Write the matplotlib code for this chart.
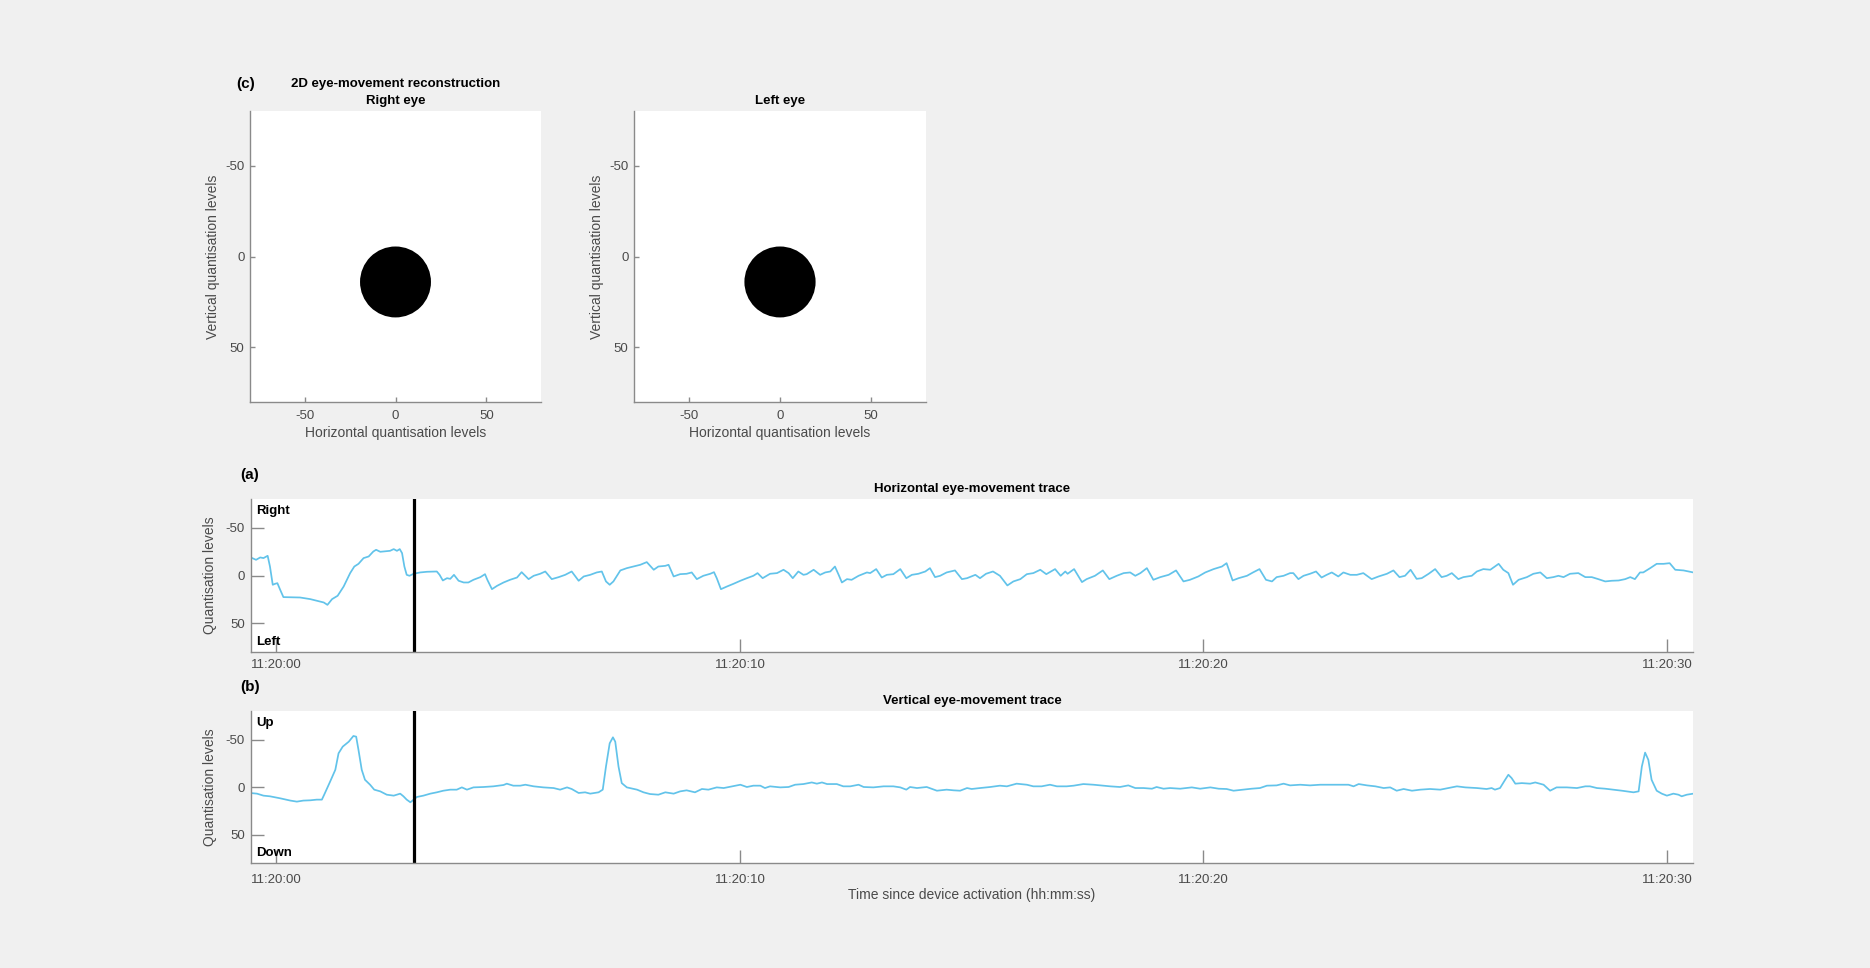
import matplotlib
matplotlib.use("Agg")
import matplotlib.pyplot as plt
from matplotlib.patches import Circle

plt.rcParams['font.family'] = ['Liberation Sans', 'DejaVu Sans']
plt.rcParams['axes.unicode_minus'] = False

# ---------------- data ----------------
# horizontal eye-movement trace: (seconds since 11:20:00, quantisation level)
horizontal_trace = [
    (-0.57, -19.2), (-0.44, -16.4), (-0.35, -18.9), (-0.28, -18.2), (-0.19, -20.6), (-0.14, -9.4),
    (-0.08, 9.7), (-0.03, 8.7), (0.02, 8.0), (0.08, 14.9), (0.15, 22.6), (0.51, 23.0), (0.73, 24.7),
    (1.02, 28.2), (1.10, 30.7), (1.20, 24.7), (1.32, 21.2), (1.45, 11.5), (1.59, -2.5), (1.68, -9.4),
    (1.77, -12.2), (1.88, -18.2), (1.99, -19.9), (2.09, -25.1), (2.15, -26.9), (2.24, -24.8),
    (2.45, -25.8), (2.53, -27.6), (2.60, -25.8), (2.66, -27.6), (2.71, -23.4), (2.76, -9.4),
    (2.81, -0.7), (2.87, 0.3), (2.96, -1.8), (3.10, -3.2), (3.25, -3.9), (3.46, -4.2), (3.52, -0.7),
    (3.59, 5.2), (3.68, 2.8), (3.75, 3.5), (3.83, -0.7), (3.93, 5.5), (4.04, 7.3), (4.14, 7.3),
    (4.25, 4.5), (4.40, 1.7), (4.50, -1.4), (4.55, 4.5), (4.65, 14.3), (4.76, 10.8), (4.90, 7.3),
    (5.04, 4.5), (5.19, 2.1), (5.29, -3.5), (5.44, 3.8), (5.55, 0.3), (5.69, -1.8), (5.80, -4.2),
    (5.94, 3.8), (6.09, 1.7), (6.23, -0.7), (6.37, -4.2), (6.52, 5.5), (6.63, 1.0), (6.77, -0.7),
    (6.91, -3.2), (7.02, -4.2), (7.11, 6.2), (7.19, 9.7), (7.27, 6.2), (7.42, -5.3), (7.56, -7.7),
    (7.70, -9.4), (7.85, -11.2), (7.99, -14.0), (8.14, -6.0), (8.24, -9.4), (8.39, -10.1),
    (8.46, -11.2), (8.57, 1.0), (8.71, -1.4), (8.85, -1.8), (8.96, -3.2), (9.07, 3.8), (9.21, 0.3),
    (9.36, -1.8), (9.44, -3.5), (9.50, 2.8), (9.59, 14.3), (9.72, 11.5), (9.86, 8.7), (10.01, 5.5),
    (10.15, 2.8), (10.29, 0.3), (10.38, -2.5), (10.49, 2.8), (10.65, -1.8),
    (10.80, -2.5), (10.94, -6.0), (11.05, -2.5), (11.14, 2.8), (11.26, -4.2), (11.37, -0.7),
    (11.44, -1.4), (11.59, -6.0), (11.73, -0.7), (11.84, -3.2), (11.95, -4.2), (12.05, -9.4),
    (12.13, -0.7), (12.20, 7.3), (12.31, 3.8), (12.41, 4.5), (12.56, 0.3), (12.74, -3.2),
    (12.81, -2.5), (12.94, -6.7), (13.06, 2.1), (13.17, -0.7), (13.31, -1.4), (13.46, -6.7),
    (13.59, 2.8), (13.71, -0.7), (13.85, -1.8), (14.00, -4.2), (14.10, -7.7), (14.21, 1.7),
    (14.32, 0.3), (14.46, -3.2), (14.64, -5.3), (14.79, 3.8), (14.90, 2.8), (15.08, -0.7),
    (15.18, 2.8), (15.31, -1.8), (15.46, -4.2), (15.61, 0.3), (15.77, 10.4), (15.90, 6.2),
    (16.05, 3.8), (16.19, -1.4), (16.33, -2.5), (16.48, -6.0), (16.61, -1.4), (16.80, -6.7),
    (16.92, 0.3), (17.02, -4.2), (17.07, -1.8), (17.21, -6.7), (17.38, 6.9), (17.48, 3.8),
    (17.66, 0.3), (17.83, -5.3), (17.97, 3.8), (18.13, 0.3), (18.28, -2.5), (18.42, -3.2),
    (18.53, 0.3), (18.64, -2.5), (18.78, -7.7), (18.92, 4.5), (19.07, 1.7), (19.25, -0.7),
    (19.41, -5.3), (19.57, 6.2), (19.71, 4.5), (19.89, 1.0), (20.04, -3.2), (20.22, -6.7),
    (20.40, -9.4), (20.50, -12.9), (20.63, 5.2), (20.76, 2.8), (20.94, 0.3), (21.07, -3.2),
    (21.21, -6.7), (21.35, 4.5), (21.48, 6.2), (21.58, 1.7), (21.73, 0.3), (21.87, -2.5),
    (21.94, -2.5), (22.05, 3.8), (22.16, 0.3), (22.30, -1.8), (22.43, -4.2), (22.55, 2.1),
    (22.66, -0.7), (22.77, -3.2), (22.91, 1.0), (23.02, -3.2), (23.17, -0.7), (23.31, -0.7),
    (23.45, -2.5), (23.63, 3.8), (23.78, 1.0), (23.96, -1.8), (24.10, -5.3), (24.23, 1.7),
    (24.35, 0.3), (24.47, -6.0), (24.60, 3.5), (24.71, 2.8), (24.86, -1.8), (25.00, -6.7),
    (25.14, 1.7), (25.25, 0.3), (25.36, -2.5), (25.50, 3.8), (25.61, 1.7), (25.79, 0.3),
    (25.90, -4.2), (26.04, -6.7), (26.19, -6.0), (26.37, -12.2), (26.47, -6.0), (26.58, -2.5),
    (26.68, 9.7), (26.80, 4.5), (26.98, 1.7), (27.12, -1.8), (27.27, -3.2), (27.41, 2.8),
    (27.55, 1.7), (27.66, 0.3), (27.77, 1.7), (27.91, -1.8), (28.09, -2.5), (28.24, 1.7),
    (28.38, 1.7), (28.52, 3.8), (28.67, 6.2), (28.81, 5.5), (28.96, 5.2), (29.10, 3.8),
    (29.21, 1.7), (29.31, 3.8), (29.42, -3.2), (29.49, -3.2), (29.64, -7.7), (29.78, -12.2),
    (29.93, -12.2), (30.06, -12.9), (30.18, -6.0), (30.36, -5.3), (30.57, -3.2),
]

# vertical eye-movement trace: (seconds since 11:20:00, quantisation level)
vertical_trace = [
    (-0.57, 6.3), (-0.42, 7.0), (-0.28, 9.1), (-0.14, 9.8), (0.08, 11.9), (0.30, 14.3), (0.44, 15.4),
    (0.58, 14.3), (0.73, 14.0), (0.87, 13.3), (0.98, 13.3), (1.03, 8.1), (1.16, -5.9), (1.27, -18.1),
    (1.34, -35.5), (1.43, -42.5), (1.56, -47.7), (1.66, -53.7), (1.72, -53.0), (1.77, -39.0),
    (1.84, -18.1), (1.91, -7.6), (2.02, -2.4), (2.11, 2.8), (2.24, 4.6), (2.38, 8.1), (2.53, 9.1),
    (2.67, 7.0), (2.74, 9.8), (2.81, 13.3), (2.89, 16.1), (3.03, 10.5), (3.17, 9.1), (3.32, 7.0),
    (3.46, 5.6), (3.60, 3.9), (3.75, 2.8), (3.89, 2.8), (4.00, 0.4), (4.11, 2.8), (4.25, 0.4),
    (4.47, 0.0), (4.68, -0.7), (4.90, -2.1), (4.97, -3.5), (5.11, -1.4), (5.26, -1.4), (5.37, -2.4),
    (5.55, -0.7), (5.76, 0.4), (5.98, 1.1), (6.12, 2.8), (6.27, 0.4), (6.37, 2.1), (6.52, 6.3),
    (6.66, 5.6), (6.77, 7.0), (6.95, 5.6), (7.04, 2.8), (7.11, -21.6), (7.19, -46.0), (7.26, -52.3),
    (7.31, -47.7), (7.38, -21.6), (7.45, -4.1), (7.56, 0.4), (7.78, 2.8), (7.92, 5.6), (8.06, 7.4),
    (8.24, 8.1), (8.39, 5.6), (8.57, 7.0), (8.71, 4.6), (8.85, 3.5), (9.03, 5.6), (9.18, 2.1),
    (9.32, 2.8), (9.50, 0.4), (9.65, 1.1), (9.83, -0.7), (10.01, -2.4), (10.15, 0.0), (10.29, -1.4),
    (10.44, -1.4), (10.54, 1.1), (10.65, -0.7), (10.87, 0.4), (11.05, 0.0), (11.19, -2.4),
    (11.37, -3.1), (11.55, -4.8), (11.66, -3.5), (11.77, -4.8), (11.88, -3.1), (12.09, -3.1),
    (12.23, -0.7), (12.38, -0.7), (12.56, -2.4), (12.67, 0.0), (12.88, 0.4), (13.10, -0.7),
    (13.31, -0.7), (13.46, 0.4), (13.59, 2.8), (13.67, 0.0), (13.82, 1.1), (14.03, 0.0),
    (14.25, 3.9), (14.46, 2.8), (14.61, 3.5), (14.75, 3.9), (14.90, 1.1), (15.00, 2.1),
    (15.18, 1.1), (15.40, 0.0), (15.61, -1.4), (15.76, -0.7), (15.97, -3.5), (16.19, -2.4),
    (16.33, -0.7), (16.51, -0.7), (16.69, -2.4), (16.84, -0.7), (17.05, -0.7), (17.20, -1.4),
    (17.41, -3.1), (17.63, -2.4), (17.84, -1.4), (17.99, -0.7), (18.20, 0.0), (18.38, -1.7),
    (18.53, 1.1), (18.71, 1.1), (18.89, 1.8), (18.99, 0.0), (19.14, 1.8), (19.28, 1.1),
    (19.50, 1.8), (19.75, 0.4), (19.93, 1.8), (20.15, 0.4), (20.33, 1.8), (20.50, 2.1),
    (20.65, 3.9), (20.86, 2.8), (21.04, 1.8), (21.22, 1.1), (21.37, -1.4), (21.58, -1.7),
    (21.73, -3.5), (21.87, -1.7), (22.09, -2.4), (22.30, -1.7), (22.52, -2.4), (22.73, -2.4),
    (22.95, -2.4), (23.13, -2.4), (23.24, -0.7), (23.35, -3.1), (23.53, -1.7), (23.71, -0.7),
    (23.89, 1.1), (24.03, 0.4), (24.17, 3.9), (24.32, 2.1), (24.50, 3.9), (24.68, 2.8),
    (24.89, 2.1), (25.11, 2.8), (25.29, 1.1), (25.47, -0.7), (25.65, 0.4), (25.90, 1.1),
    (26.11, 2.1), (26.22, 1.1), (26.29, 2.8), (26.40, 1.1), (26.51, -7.6), (26.58, -12.9),
    (26.65, -9.4), (26.73, -3.5), (26.87, -4.1), (27.05, -3.5), (27.16, -4.8), (27.34, -2.4),
    (27.48, 3.9), (27.62, 0.4), (27.84, 0.4), (28.06, 1.1), (28.24, -0.7), (28.34, -0.7),
    (28.49, 1.1), (28.67, 1.8), (28.85, 2.8), (29.03, 3.9), (29.14, 4.6), (29.28, 5.6),
    (29.39, 4.6), (29.46, -21.6), (29.53, -36.2), (29.60, -28.6), (29.67, -7.6), (29.78, 3.9),
    (29.89, 7.0), (30.00, 9.1), (30.14, 7.0), (30.25, 8.1), (30.32, 9.8), (30.43, 8.1),
    (30.57, 7.0),
]

marker_time = 2.96                       # black vertical marker (s)
time_limits = (-0.56, 30.57)
time_ticks = [0, 10, 20, 30]
time_labels = ['11:20:00', '11:20:10', '11:20:20', '11:20:30']
level_ticks = [-50, 0, 50]
level_labels = ['-50', '0', '50']
level_limits = (80, -80)                 # reversed (negative at top)
right_eye_pos = (0, 14)
left_eye_pos = (0, 14)
pupil_radius = 19.5

# ---------------- style ----------------
W, H = 1870, 968
BG = '#f0f0f0'
SPINE = '#8a8a8a'
TXT = '#4a4a4a'
TRACE = '#62c3ea'
FS = 9.5

fig = plt.figure(figsize=(W / 100, H / 100), dpi=100, facecolor=BG)


def box(x0, y0, x1, y1):
    return [x0 / W, 1 - y1 / H, (x1 - x0) / W, (y1 - y0) / H]


def ftext(x, y, s, **kw):
    kw.setdefault('fontsize', FS)
    fig.text(x / W, 1 - y / H, s, **kw)


def style(ax, ticklen, xpad):
    for s in ('top', 'right'):
        ax.spines[s].set_visible(False)
    for s in ('left', 'bottom'):
        ax.spines[s].set_color(SPINE)
        ax.spines[s].set_linewidth(1.0)
    ax.tick_params(direction='in', length=ticklen, width=1.0, color=SPINE,
                   labelcolor=TXT, labelsize=FS, pad=4)
    ax.tick_params(axis='x', pad=xpad)
    ax.set_facecolor('white')


# ---- 2D reconstruction panels ----
for (x0, x1), pos, ttl in [((250, 541), right_eye_pos, 'Right eye'),
                           ((634, 926), left_eye_pos, 'Left eye')]:
    ax = fig.add_axes(box(x0, 111, x1, 402))
    style(ax, 3.5, 6)
    ax.set_xlim(-80, 80)
    ax.set_ylim(*level_limits)
    ax.set_xticks(level_ticks, level_labels)
    ax.set_yticks(level_ticks, level_labels)
    ax.add_patch(Circle(pos, pupil_radius, facecolor='black', edgecolor='none'))
    ax.set_xlabel('Horizontal quantisation levels', fontsize=FS + 0.5, color=TXT, labelpad=3)
    ax.set_ylabel('Vertical quantisation levels', fontsize=FS + 0.5, color=TXT, labelpad=4)
    ftext((x0 + x1) / 2, 101, ttl, ha='center', va='center', fontweight='bold')

ftext(395.5, 84, '2D eye-movement reconstruction', ha='center', va='center', fontweight='bold')
ftext(236, 84, '(c)', ha='left', va='center', fontweight='bold', fontsize=11)

# ---- trace panels ----
panels = [
    (499, 652, horizontal_trace, 'Horizontal eye-movement trace', '(a)', 'Right', 'Left', 5),
    (711, 863, vertical_trace, 'Vertical eye-movement trace', '(b)', 'Up', 'Down', 8),
]
for y0, y1, trace, ttl, tag, top_lbl, bot_lbl, xpad in panels:
    ax = fig.add_axes(box(250.5, y0, 1693.3, y1))
    style(ax, 9.5, xpad)
    ts = [p[0] for p in trace]
    vs = [p[1] for p in trace]
    ax.plot(ts, vs, color=TRACE, lw=1.25, solid_joinstyle='round')
    ax.axvline(marker_time, color='black', lw=2.3)
    ax.set_xlim(*time_limits)
    ax.set_ylim(*level_limits)
    ax.set_xticks(time_ticks, time_labels)
    ax.set_yticks(level_ticks, level_labels)
    ax.set_ylabel('Quantisation levels', fontsize=FS + 0.5, color=TXT, labelpad=6)
    ftext(972, y0 - 10, ttl, ha='center', va='center', fontweight='bold')
    ftext(240, y0 - 24, tag, ha='left', va='center', fontweight='bold', fontsize=11)
    ftext(256, y0 + 12, top_lbl, ha='left', va='center', fontweight='bold')
    ftext(256, y1 - 10, bot_lbl, ha='left', va='center', fontweight='bold')
    last_ax = ax

last_ax.set_xlabel('Time since device activation (hh:mm:ss)', fontsize=FS + 0.5,
                   color=TXT, labelpad=1)

fig.savefig('out.png', dpi=100, facecolor=BG)
